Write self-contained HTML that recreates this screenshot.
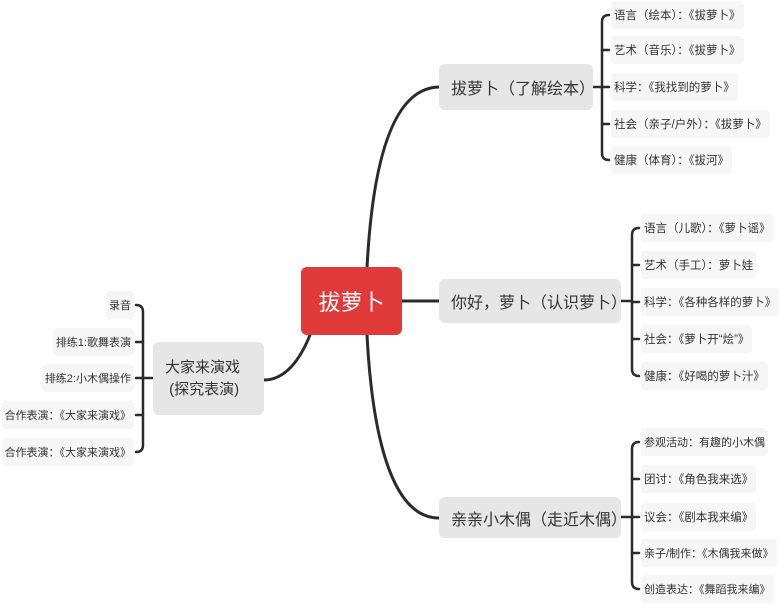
<!DOCTYPE html>
<html><head><meta charset="utf-8"><style>
body{margin:0;width:779px;height:606px;background:#fff;position:relative;overflow:hidden;font-family:"Liberation Sans","Noto Sans CJK SC",sans-serif;color:#333}
.b{position:absolute;box-sizing:border-box;display:flex;align-items:center;white-space:nowrap}
.t{background:#e6e6e6;border-radius:6px;font-size:16px;padding:0 12px;color:#333}
.l{background:#f6f6f6;border-radius:4px;font-size:11.5px;height:28px;padding:0 3px;color:#333}
.r .l{font-size:11px}
svg{position:absolute;left:0;top:0}
</style></head><body>
<svg width="779" height="606" fill="none" stroke="#2b2b2b" stroke-width="3" stroke-linecap="round">
<path d="M367 268 C372 170 390 88 439 87"/>
<path d="M402 301 L439 301"/>
<path d="M367 335 C372 430 390 518 439 518"/>
<path d="M310 335 C300 360 285 380 264 380"/>
<g stroke-width="2.5">
<path d="M593 87 L602 87"/>
<path d="M609 15 Q602 15 602 22 L602 153 Q602 160 609 160"/>
<path d="M602 50 L609 50 M602 87 L609 87 M602 124 L609 124"/>
<path d="M621 301 L632 301"/>
<path d="M639 228 Q632 228 632 235 L632 369 Q632 376 639 376"/>
<path d="M632 265 L639 265 M632 302 L639 302 M632 339 L639 339"/>
<path d="M621 517 L632 517"/>
<path d="M639 442 Q632 442 632 449 L632 582 Q632 589 639 589"/>
<path d="M632 479 L639 479 M632 517 L639 517 M632 553 L639 553"/>
<path d="M153 378 L143 378"/>
<path d="M136 305 Q143 305 143 312 L143 445 Q143 452 136 452"/>
<path d="M143 342 L136 342 M143 378 L136 378 M143 415 L136 415"/>
</g>
</svg>
<div class="b" style="left:301px;top:267px;width:101px;height:68px;background:#e03a3a;border-radius:6px;color:#fff;font-size:22px;justify-content:center">拔萝卜</div>
<div class="b t" style="left:439px;top:64px;width:154px;height:46px">拔萝卜（了解绘本）</div>
<div class="b t" style="left:439px;top:279px;width:182px;height:44px">你好，萝卜（认识萝卜）</div>
<div class="b t" style="left:439px;top:497px;width:182px;height:41px">亲亲小木偶（走近木偶）</div>
<div class="b t" style="left:153px;top:342px;width:111px;height:73px;line-height:22px;padding:0 0 0 12px;font-size:15px"><div>大家来演戏<br>&nbsp;(探究表演)</div></div>

<div class="b l" style="left:611px;top:1px">语言（绘本）：《拔萝卜》</div>
<div class="b l" style="left:611px;top:36px">艺术（音乐）：《拔萝卜》</div>
<div class="b l" style="left:611px;top:73px">科学：《我找到的萝卜》</div>
<div class="b l" style="left:611px;top:110px">社会（亲子/户外）：《拔萝卜》</div>
<div class="b l" style="left:611px;top:146px">健康（体育）：《拔河》</div>

<div class="b l" style="left:641px;top:214px">语言（儿歌）：《萝卜谣》</div>
<div class="b l" style="left:641px;top:251px">艺术（手工）：萝卜娃</div>
<div class="b l" style="left:641px;top:288px">科学：《各种各样的萝卜》</div>
<div class="b l" style="left:641px;top:325px">社会：《萝卜开“烩”》</div>
<div class="b l" style="left:641px;top:362px">健康：《好喝的萝卜汁》</div>

<div class="b l" style="left:641px;top:428px;font-size:11px">参观活动：有趣的小木偶</div>
<div class="b l" style="left:641px;top:465px">团讨：《角色我来选》</div>
<div class="b l" style="left:641px;top:503px">议会：《剧本我来编》</div>
<div class="b l" style="left:641px;top:539px;font-size:11px">亲子/制作：《木偶我来做》</div>
<div class="b l" style="left:641px;top:575px;font-size:11px">创造表达：《舞蹈我来编》</div>

<div class="r">
<div class="b l" style="right:645px;top:291px">录音</div>
<div class="b l" style="right:645px;top:328px">排练1:歌舞表演</div>
<div class="b l" style="right:645px;top:364px">排练2:小木偶操作</div>
<div class="b l" style="right:645px;top:401px">合作表演：《大家来演戏》</div>
<div class="b l" style="right:645px;top:438px">合作表演：《大家来演戏》</div>
</div>
</body></html>
